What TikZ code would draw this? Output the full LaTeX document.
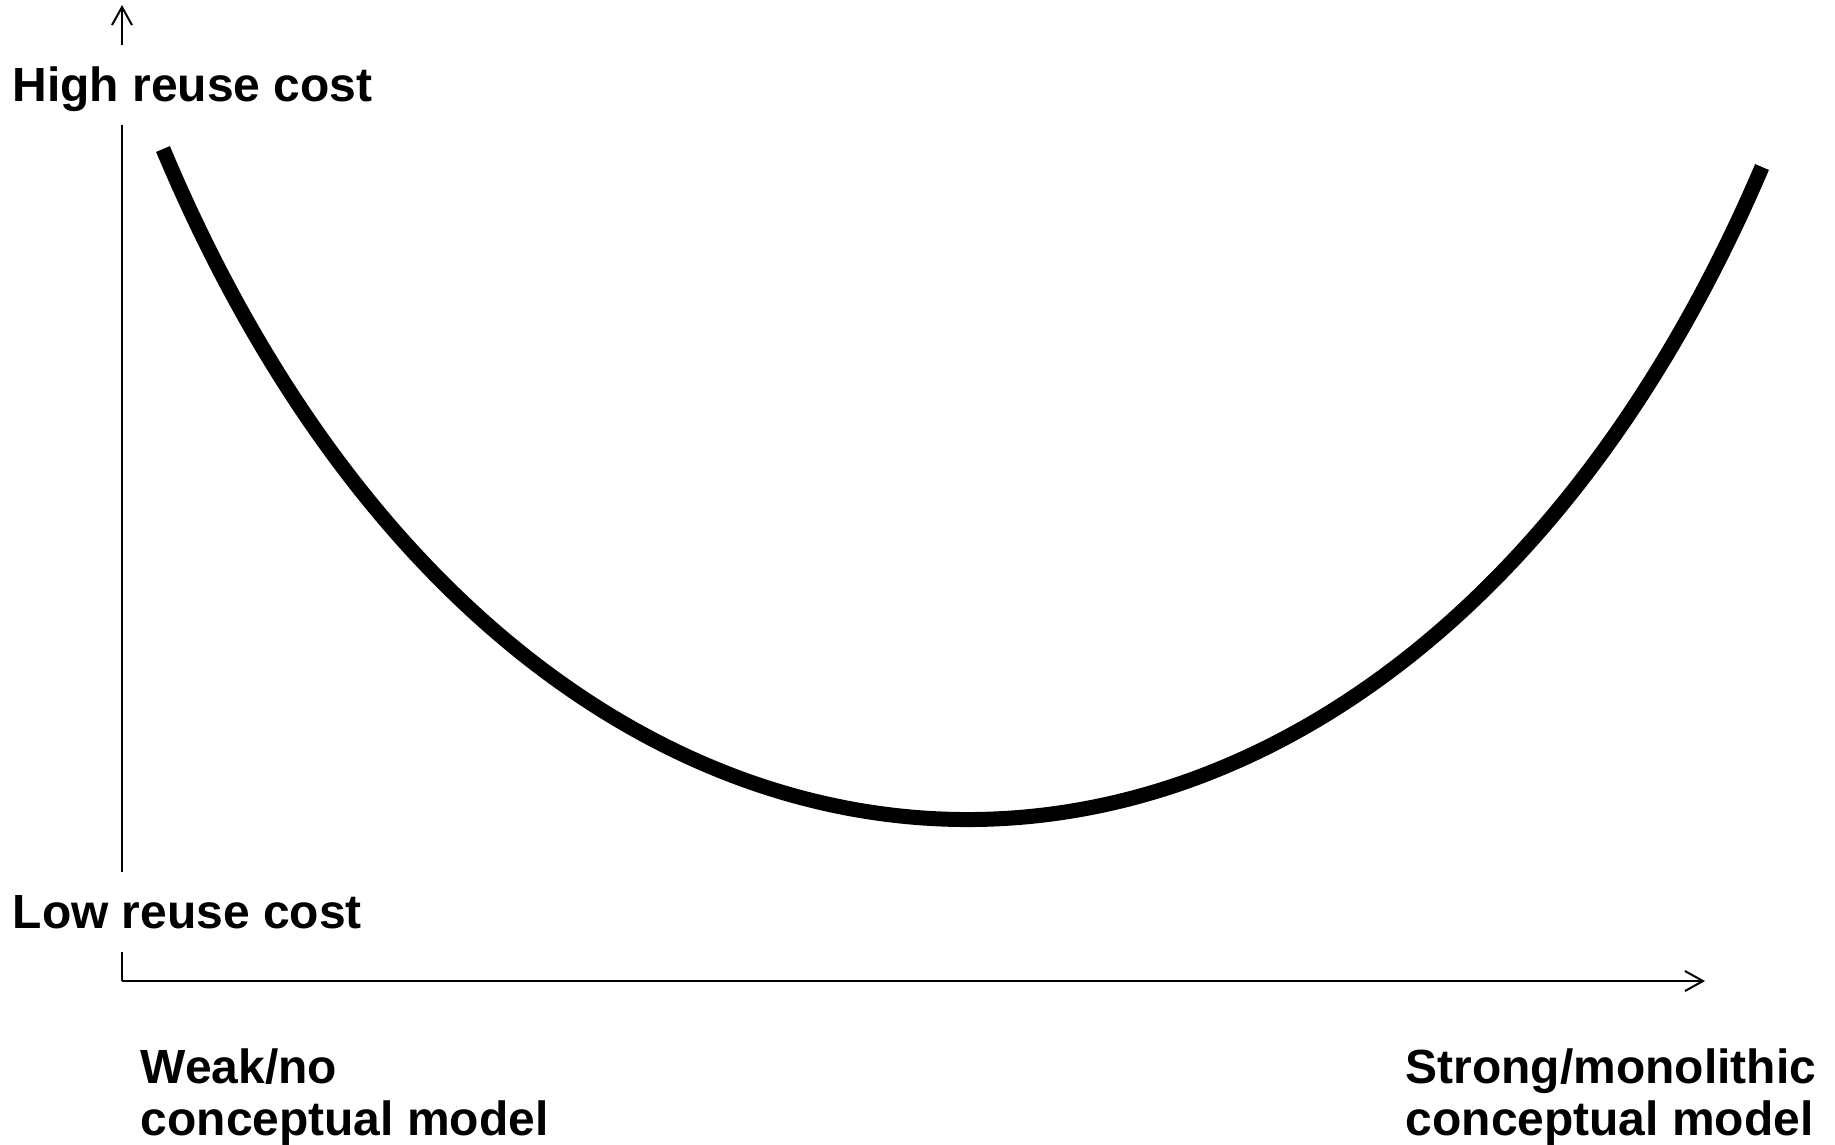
\documentclass[tikz,border=0pt]{standalone}
\usepackage{fontspec}
\setmainfont{Liberation Sans}
\usetikzlibrary{arrows.meta}

\begin{document}
\begin{tikzpicture}[x=0.1mm,y=-0.1mm]
\tikzstyle{every node}+=[inner xsep=0pt, inner ysep=1.5mm, font=\bfseries\fontsize{13.65}{14.8}\selectfont]
\tikzstyle{axis}=[black, line width=0.2mm]
\tikzstyle{tip}=[-{Straight Barb[length=1.8mm,width=2mm]}]
\tikzstyle{costcurve}=[black, line width=1.5mm]
\useasboundingbox (0,0) rectangle (1835,1144);
\coordinate (origin) at (122,981);
\coordinate (ytip) at (122,5);
\coordinate (xtip) at (1705,981);
\node (high) [anchor=base west, text height=4mm, text depth=0.8mm] at (12,101) {High reuse cost};
\node (low) [anchor=base west, text height=4mm, text depth=0.8mm] at (12,928) {Low reuse cost};
% multi-line nodes: base is the last line
\node (weak) [anchor=base west, align=left] at (140,1135) {Weak/no\\conceptual model};
\node (strong) [anchor=base west, align=left] at (1405,1135) {Strong/monolithic\\conceptual model};
\draw [axis] (origin) -- (origin |- low.south);
\draw [axis] (origin |- low.north) -- (origin |- high.south);
\draw [axis, tip] (origin |- high.north) -- (ytip);
\draw [axis, tip] (origin) -- (xtip);
\draw [costcurve] (163,149) .. controls (537,1040) and (1389,1040) .. (1762,167);
\end{tikzpicture}
\end{document}
